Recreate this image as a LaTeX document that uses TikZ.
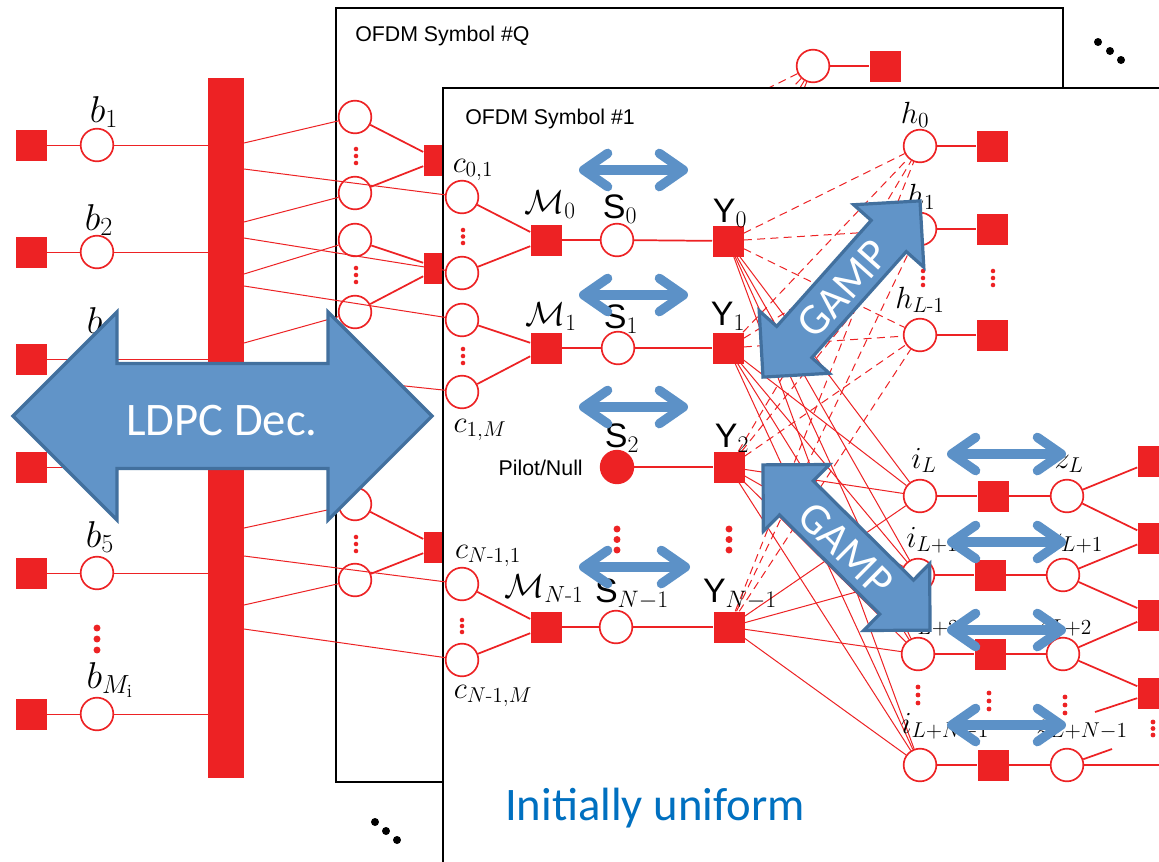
\RequirePackage{fix-cm}
\documentclass[tikz,border=0pt]{standalone}
\usepackage{amsmath}
\usepackage{fontspec}
\usetikzlibrary{arrows.meta}
\newfontfamily\hv{Liberation Sans}
\newfontfamily\clb{Carlito}
\definecolor{rd}{RGB}{237,34,36}
\definecolor{afill}{RGB}{97,148,200}
\definecolor{aline}{RGB}{66,112,158}
\definecolor{sarc}{RGB}{92,145,199}
\definecolor{ublue}{RGB}{0,112,192}
\newcommand\rdots[4]{\fill[rd] (#1,#2) circle (#4) (#1,#2+#3) circle (#4) (#1,#2+2*#3) circle (#4);}
\newcommand\bigarr[7]{%
\begin{scope}[shift={(#1,#2)},rotate=#3]
\draw[bigarrow] (-#4,0) -- (-#4+#5,#6) -- (-#4+#5,#7) -- (#4-#5,#7) -- (#4-#5,#6) -- (#4,0) -- (#4-#5,-#6) -- (#4-#5,-#7) -- (-#4+#5,-#7) -- (-#4+#5,-#6) -- cycle;
\end{scope}}
\begin{document}
\begin{tikzpicture}[x=0.75pt,y=-0.75pt,
  vn/.style={circle,draw=rd,line width=1.25pt,fill=white,minimum size=24.5pt,inner sep=0pt},
  pv/.style={circle,draw=rd,line width=1.25pt,fill=rd,minimum size=24.5pt,inner sep=0pt},
  fn/.style={rectangle,fill=rd,minimum size=23.25pt,inner sep=0pt},
  ed/.style={draw=rd,line width=1.3pt},
  te/.style={draw=rd,line width=0.75pt},
  de/.style={draw=rd,line width=0.75pt,dash pattern=on 6pt off 4pt},
  frm/.style={draw=black,line width=1.6pt,fill=white},
  lb/.style={inner sep=0pt,anchor=base,font=\fontsize{23}{26}\selectfont},
  lbw/.style={lb,anchor=base west},
  mlb/.style={lb,font=\fontsize{25}{28}\selectfont},
  blb/.style={inner sep=0pt,anchor=base,font=\fontsize{28}{31}\selectfont},
  sy/.style={inner sep=0pt,anchor=base,font=\fontsize{25.5}{28}\selectfont},
  ttl/.style={inner sep=0pt,anchor=west,font=\hv\fontsize{16}{19}\selectfont},
  bigarrow/.style={fill=afill,draw=aline,line width=2.4pt,line join=miter},
  atext/.style={text=white,inner sep=0pt,font=\clb\fontsize{35}{40}\selectfont},
  sarr/.style={draw=sarc,line width=7pt,{Straight Barb[length=18pt,width=25pt,round]}-{Straight Barb[length=18pt,width=25pt,round]}}
]
\useasboundingbox (0,0) rectangle (1159,861);
\clip (0,0) rectangle (1159,861);
\fill[white] (0,0) rectangle (1159,861);

% ---------------- OFDM Symbol #Q ----------------
\draw[frm] (336,8) rectangle (1063,782);
\node[ttl] (tQ) at (355,36) {OFDM Symbol \#Q};
\coordinate (qY0) at (621,161);
\coordinate (qY1) at (621,268);
\coordinate (qY2) at (622,387);
\coordinate (qYN) at (622,547);
\node[vn] (qh0) at (813,66) {};
\node[fn] (qhs) at (885,66) {};
\draw[ed] (qh0) -- (qhs);
\draw[de] (qh0) -- (qY0);
\draw[de] (qh0) -- (qY1);
\draw[de] (qh0) -- (qY2);
\draw[de] (qh0) -- (qYN);
\node[vn] (qc1) at (355,117) {};
\node[vn] (qc2) at (355,193) {};
\node[vn] (qc3) at (355,240) {};
\node[vn] (qc4) at (355,312) {};
\node[vn] (qc5) at (355,504) {};
\node[vn] (qc6) at (355,580) {};
\node[fn] (qm1) at (439,160) {};
\node[fn] (qm2) at (439,268) {};
\node[fn] (qm3) at (439,547) {};
\draw[ed] (qc1) -- (qm1);
\draw[ed] (qc2) -- (qm1);
\draw[ed] (qc3) -- (qm2);
\draw[ed] (qc4) -- (qm2);
\draw[ed] (qc5) -- (qm3);
\draw[ed] (qc6) -- (qm3);
\rdots{356}{149}{7}{1.7pt}
\rdots{356}{268}{7}{1.7pt}
\rdots{356}{537}{7}{1.7pt}

% ---------------- OFDM Symbol #1 ----------------
\draw[frm] (443,88) rectangle (1200,900);
\node[ttl] (t1) at (465,119) {OFDM Symbol \#1};

\node[vn] (c1a) at (462,197) {};
\node[vn] (c1b) at (462,273) {};
\node[vn] (c2a) at (462,320) {};
\node[vn] (c2b) at (462,392) {};
\node[vn] (cNa) at (462,584) {};
\node[vn] (cNb) at (462,660) {};
\node[fn] (M0) at (546,240) {};
\node[fn] (M1) at (546,348) {};
\node[fn] (MN) at (546,627) {};
\node[vn] (S0) at (617,240) {};
\node[vn] (S1) at (618,348) {};
\node[pv] (S2) at (617,467) {};
\node[vn] (SN) at (616,627) {};
\node[fn] (Y0) at (728,241) {};
\node[fn] (Y1) at (728,348) {};
\node[fn] (Y2) at (729,467) {};
\node[fn] (YN) at (729,627) {};

\node[vn] (h0) at (920,146) {};
\node[vn] (h1) at (920,229) {};
\node[vn] (hL) at (920,335) {};
\node[fn] (hs0) at (992,146) {};
\node[fn] (hs1) at (992,229) {};
\node[fn] (hsL) at (992,335) {};

\node[vn] (i0) at (920,496) {};
\node[vn] (i1) at (918,575) {};
\node[vn] (i2) at (918,654) {};
\node[vn] (iN) at (920,765) {};
\node[fn] (is0) at (993,496) {};
\node[fn] (is1) at (990,575) {};
\node[fn] (is2) at (990,654) {};
\node[fn] (isN) at (993,765) {};
\node[vn] (z0) at (1067,496) {};
\node[vn] (z1) at (1063,575) {};
\node[vn] (z2) at (1063,654) {};
\node[vn] (zN) at (1067,765) {};
\node[fn] (r1) at (1153,461) {};
\node[fn] (r2) at (1153,538) {};
\node[fn] (r3) at (1153,615) {};
\node[fn] (r4) at (1153,693) {};
\coordinate (e1) at (1095,712);
\coordinate (e2) at (1112,749);
\coordinate (e3) at (1170,765);

% Y -- h (dashed) and Y -- i (solid)
\foreach \y in {Y0,Y1,Y2,YN}{
  \foreach \h in {h0,h1,hL}{\draw[de] (\y) -- (\h);}
  \foreach \i in {i0,i1,i2,iN}{\draw[te] (\y) -- (\i);}
}
\draw[ed] (c1a) -- (M0);
\draw[ed] (c1b) -- (M0);
\draw[ed] (c2a) -- (M1);
\draw[ed] (c2b) -- (M1);
\draw[ed] (cNa) -- (MN);
\draw[ed] (cNb) -- (MN);
\draw[ed] (M0) -- (S0) -- (Y0);
\draw[ed] (M1) -- (S1) -- (Y1);
\draw[ed] (S2) -- (Y2);
\draw[ed] (MN) -- (SN) -- (YN);
\draw[ed] (h0) -- (hs0);
\draw[ed] (h1) -- (hs1);
\draw[ed] (hL) -- (hsL);
\draw[ed] (i0) -- (is0) -- (z0);
\draw[ed] (i1) -- (is1) -- (z1);
\draw[ed] (i2) -- (is2) -- (z2);
\draw[ed] (iN) -- (isN) -- (zN);
\draw[ed] (z0) -- (r1);
\draw[ed] (z0) -- (r2);
\draw[ed] (z1) -- (r2);
\draw[ed] (z1) -- (r3);
\draw[ed] (z2) -- (r3);
\draw[ed] (z2) -- (r4);
\draw[ed] (r4) -- (e1);
\draw[ed] (zN) -- (e2);
\draw[ed] (zN) -- (e3);

\rdots{463}{230}{6.5}{1.7pt}
\rdots{463}{349}{7}{1.7pt}
\rdots{462}{620}{6}{1.7pt}
\rdots{617}{529}{10.5}{2.6pt}
\rdots{729}{529}{10.5}{2.6pt}
\rdots{923}{271}{7}{1.7pt}
\rdots{993}{271}{7}{1.7pt}
\rdots{918}{687}{8}{1.8pt}
\rdots{989}{693}{8}{1.8pt}
\rdots{1065}{697}{8}{1.8pt}
\rdots{1153}{722}{6.5}{1.8pt}

% labels in #1
\node[lb] (lc01) at (473,172) {$c_{0,1}$};
\node[mlb] (lM0) at (550,213) {$\mathcal{M}_0$};
\node[sy] (lS0) at (620,218) {$\mbox{\hv S}_0$};
\node[sy] (lY0) at (730,222) {$\mbox{\hv Y}_0$};
\node[mlb] (lM1) at (551,325) {$\mathcal{M}_1$};
\node[sy] (lS1) at (621,328) {$\mbox{\hv S}_1$};
\node[sy] (lY1) at (728,325) {$\mbox{\hv Y}_1$};
\node[lb] (lc1M) at (480,432) {$c_{1,M}$};
\node[sy] (lS2) at (622,447) {$\mbox{\hv S}_2$};
\node[sy] (lY2) at (732,447) {$\mbox{\hv Y}_2$};
\node[inner sep=0pt,anchor=base east,font=\hv\fontsize{16}{19}\selectfont] (lpn) at (583,475) {Pilot/Null};
\node[lb] (lcN1) at (488,558) {$c_{N\text{-}1,1}$};
\node[mlb] (lMN) at (544,597) {$\mathcal{M}_{N\text{-}1}$};
\node[sy] (lSN) at (632,602) {$\mbox{\hv S}_{N-1}$};
\node[sy] (lYN) at (740,602) {$\mbox{\hv Y}_{N-1}$};
\node[lb] (lcNM) at (493,698) {$c_{N\text{-}1,M}$};
\node[lb] (lh0) at (915,123) {$h_0$};
\node[lb] (lh1) at (921,205) {$h_1$};
\node[lb] (lhL) at (920,308) {$h_{L\text{-}1}$};
\node[lb] (li0) at (924,468) {$i_L$};
\node[lbw] (li1) at (906,547) {$i_{L+1}$};
\node[lbw] (li2) at (907,630) {$i_{L+2}$};
\node[lbw] (liN) at (901,733) {$i_{L+N-1}$};
\node[lb] (lz0) at (1069,468) {$z_L$};
\node[lbw] (lz1) at (1047,547) {$z_{L+1}$};
\node[lbw] (lz2) at (1036,630) {$z_{L+2}$};
\node[lbw] (lzN) at (1036,733) {$z_{L+N-1}$};

% ---------------- left: bits and LDPC ----------------
\node[fill=rd,minimum width=27pt,minimum height=525pt,inner sep=0pt] (bar) at (226,428) {};
\node[fn] (fb1) at (31,145) {};
\node[fn] (fb2) at (31,252) {};
\node[fn] (fb3) at (31,359) {};
\node[fn] (fb4) at (31,467) {};
\node[fn] (fb5) at (31,573) {};
\node[fn] (fbM) at (31,714) {};
\node[vn] (vb1) at (97,145) {};
\node[vn] (vb2) at (97,252) {};
\node[vn] (vb3) at (97,359) {};
\node[vn] (vb4) at (97,467) {};
\node[vn] (vb5) at (97,573) {};
\node[vn] (vbM) at (97,714) {};
\foreach \n in {1,2,3,4,5,M}{
  \draw[te] (fb\n) -- (vb\n);
  \draw[te] (vb\n) -- (vb\n -| bar.west);
}
\rdots{97}{628}{11}{2.6pt}
\node[blb] (lb1) at (104,122) {$b_1$};
\node[blb] (lb2) at (99,230) {$b_2$};
\node[blb] (lb3) at (101,333) {$b_3$};
\node[blb] (lb5) at (100,547) {$b_5$};
\node[blb] (lbM) at (110,688) {$b_{M_{\text{i}}}$};

% lines from LDPC check node
\draw[te] (244,143) -- (qc1);
\draw[te] (244,169) -- (c1a);
\draw[te] (244,222) -- (qc2);
\draw[te] (244,238) -- (c1b);
\draw[te] (244,274) -- (qc3);
\draw[te] (244,286) -- (c2a);
\draw[te] (244,343) -- (qc4);
\draw[te] (244,369) -- (c2b);
\draw[te] (244,528) -- (qc5);
\draw[te] (244,556) -- (cNa);
\draw[te] (244,605) -- (qc6);
\draw[te] (244,629) -- (cNb);

% ellipses
\fill (1098,42) circle (3pt) (1110,51) circle (3pt) (1121,60) circle (3pt);
\fill (375,822) circle (3pt) (386,831) circle (3pt) (397,840) circle (3pt);

% ---------------- message-passing arrows ----------------
\draw[sarr] (579,170) -- (688,170);
\draw[sarr] (579,295) -- (688,295);
\draw[sarr] (579,407) -- (688,407);
\draw[sarr] (579,567) -- (690,567);
\draw[sarr] (947,454) -- (1066,454);
\draw[sarr] (947,542) -- (1066,542);
\draw[sarr] (947,630) -- (1066,630);
\draw[sarr] (947,725) -- (1066,725);

\bigarr{222.5}{416}{0}{209.5}{104}{104}{52.5}
\node[atext] (ldpc) at (222,421) {LDPC Dec.};
\bigarr{841.5}{289}{48.3}{118}{47}{47}{23.5}
\node[atext,rotate=48.3,font=\clb\fontsize{33}{38}\selectfont] (gamp1) at (843,289) {GAMP};
\bigarr{846.5}{547.5}{-44.7}{117.5}{47}{47}{24}
\node[atext,rotate=-44.7,font=\clb\fontsize{33}{38}\selectfont] (gamp2) at (846,549) {GAMP};

\node[inner sep=0pt,anchor=base,text=ublue,font=\clb\fontsize{35}{40}\selectfont] (init) at (655,820) {Initially uniform};
\end{tikzpicture}
\end{document}
